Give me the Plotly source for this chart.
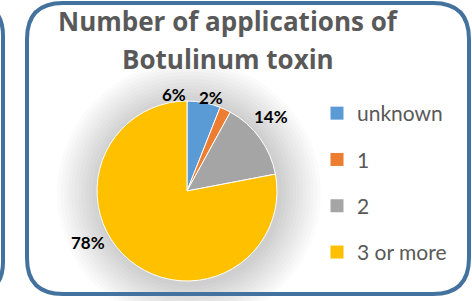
import plotly.graph_objects as go

# ---- data ----
categories = ["unknown", "1", "2", "3 or more"]
percentages = [6, 2, 14, 78]
colors = ["#5B9BD5", "#ED7D31", "#A5A5A5", "#FFC000"]
title_lines = ["Number of applications of", "Botulinum toxin"]

W, H = 472, 301
FONT = "Lato"
TITLE_FONT = "Open Sans"
BORDER = "#44729E"
TEXT_GRAY = "#595959"

def px(x):
    return x / W

def py(y):
    return 1 - y / H

# pie geometry (pixels)
cx, cy, r = 187, 191, 90

fig = go.Figure()

fig.add_trace(go.Pie(
    labels=categories,
    values=percentages,
    marker=dict(colors=colors, line=dict(color="white", width=1)),
    sort=False,
    direction="clockwise",
    rotation=0,
    textinfo="none",
    showlegend=False,
    domain=dict(x=[px(cx - r), px(cx + r)], y=[py(cy + r), py(cy - r)]),
    hoverinfo="label+percent",
))

# legend entries (one group per category for spacing)
for name, col in zip(categories, colors):
    fig.add_trace(go.Scatter(
        x=[None], y=[None], mode="markers", name=name,
        marker=dict(symbol="square", size=13, color=col),
        legendgroup=name, showlegend=True,
    ))

shapes = []
# soft shadow glow behind pie
for k in range(1, 13):
    rr = r + k * 3.5
    shapes.append(dict(
        type="circle", xref="paper", yref="paper", layer="below",
        x0=px(cx - rr + 2), x1=px(cx + rr + 2), y0=py(cy + rr + 2), y1=py(cy - rr + 2),
        fillcolor="rgba(0,0,0,0.014)", line=dict(width=0),
    ))

# main rounded border
L, T, R, B, rad = 27, 3, 469, 294, 36
path = (f"M {px(L)} {py(T + rad)} Q {px(L)} {py(T)} {px(L + rad)} {py(T)} "
        f"L {px(R - rad)} {py(T)} Q {px(R)} {py(T)} {px(R)} {py(T + rad)} "
        f"L {px(R)} {py(B - rad)} Q {px(R)} {py(B)} {px(R - rad)} {py(B)} "
        f"L {px(L + rad)} {py(B)} Q {px(L)} {py(B)} {px(L)} {py(B - rad)} Z")
shapes.append(dict(type="path", xref="paper", yref="paper", path=path,
                   line=dict(color=BORDER, width=4), layer="above"))
# partial neighbouring box on the left
path2 = (f"M {px(-30)} {py(3)} Q {px(3)} {py(3)} {px(3)} {py(36)} "
         f"L {px(3)} {py(262)} Q {px(3)} {py(294)} {px(-30)} {py(294)}")
shapes.append(dict(type="path", xref="paper", yref="paper", path=path2,
                   line=dict(color=BORDER, width=4), layer="above"))

annotations = []
for txt, ymid in zip(title_lines, [21, 59]):
    annotations.append(dict(
        text=f"<b>{txt}</b>", xref="paper", yref="paper",
        x=px(228), y=py(ymid), xanchor="center", yanchor="middle",
        showarrow=False, font=dict(family=TITLE_FONT, size=26, color=TEXT_GRAY),
    ))

# data labels (best-fit positions as in the original)
label_pos = [(174, 95), (211, 97), (271, 116), (88, 242)]
total = sum(percentages)
for v, (lx, ly) in zip(percentages, label_pos):
    annotations.append(dict(
        text=f"<b>{round(100 * v / total)}%</b>", xref="paper", yref="paper",
        x=px(lx), y=py(ly), xanchor="center", yanchor="middle",
        showarrow=False, font=dict(family=FONT, size=17, color="black"),
    ))

fig.update_layout(
    width=W, height=H,
    margin=dict(l=0, r=0, t=0, b=0),
    paper_bgcolor="white", plot_bgcolor="white",
    xaxis=dict(visible=False), yaxis=dict(visible=False),
    shapes=shapes, annotations=annotations,
    legend=dict(x=px(317), y=py(93), xanchor="left", yanchor="top",
                font=dict(family=FONT, size=21, color=TEXT_GRAY),
                tracegroupgap=16, bgcolor="rgba(0,0,0,0)"),
    showlegend=True,
)

fig.write_html("out.html", config={"displayModeBar": False},
               post_script="document.body.style.margin='0';")
